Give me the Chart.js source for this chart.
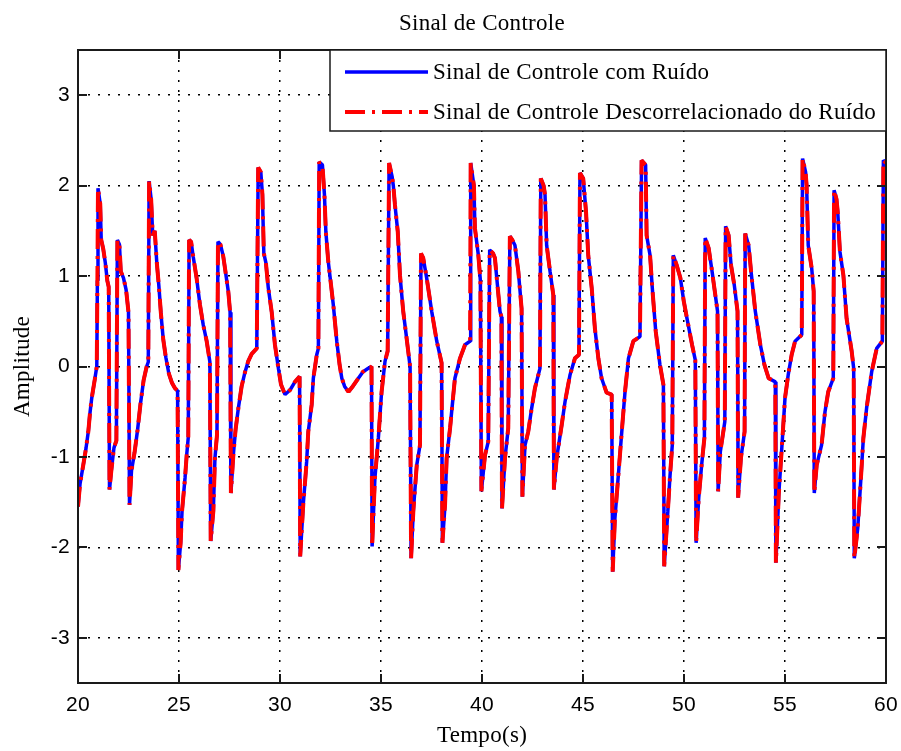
<!DOCTYPE html>
<html>
<head>
<meta charset="utf-8">
<script src="https://cdn.jsdelivr.net/npm/chart.js@4.4.1/dist/chart.umd.min.js"></script>
<style>
  html, body { margin: 0; padding: 0; background: #ffffff; }
  canvas { display: block; }
</style>
</head>
<body>
<canvas id="grafico" width="901" height="751"></canvas>
<script>
// Tempo (s) de cada amostra do sinal de controle
const tempo = [
  20.00, 20.10, 20.26, 20.40, 20.51, 20.60, 20.68, 20.84, 20.93, 20.96,
  20.99, 21.10, 21.15, 21.25, 21.35, 21.45, 21.52, 21.56, 21.65, 21.78,
  21.90, 21.95, 22.05, 22.12, 22.25, 22.38, 22.50, 22.55, 22.65, 22.80,
  22.95, 23.10, 23.25, 23.40, 23.48, 23.52, 23.62, 23.70, 23.80, 23.90,
  24.00, 24.10, 24.22, 24.35, 24.50, 24.65, 24.80, 24.93, 24.97, 25.08,
  25.15, 25.30, 25.38, 25.46, 25.50, 25.60, 25.70, 25.87, 26.04, 26.20,
  26.37, 26.53, 26.57, 26.70, 26.78, 26.88, 26.93, 27.05, 27.19, 27.30,
  27.44, 27.53, 27.57, 27.69, 27.80, 27.94, 28.10, 28.27, 28.43, 28.60,
  28.85, 28.92, 29.05, 29.13, 29.20, 29.30, 29.42, 29.59, 29.75, 29.92,
  30.05, 30.25, 30.50, 30.74, 30.97, 31.00, 31.15, 31.32, 31.40, 31.57,
  31.65, 31.82, 31.90, 31.94, 32.10, 32.20, 32.27, 32.39, 32.50, 32.64,
  32.81, 32.95, 33.06, 33.20, 33.39, 33.60, 33.88, 34.10, 34.37, 34.53,
  34.56, 34.70, 34.87, 35.03, 35.20, 35.33, 35.40, 35.55, 35.61, 35.69,
  35.83, 35.94, 36.10, 36.27, 36.44, 36.49, 36.60, 36.77, 36.93, 36.98,
  37.09, 37.26, 37.51, 37.76, 38.00, 38.04, 38.17, 38.25, 38.42, 38.66,
  38.91, 39.16, 39.41, 39.44, 39.60, 39.65, 39.82, 39.92, 39.97, 40.15,
  40.31, 40.38, 40.55, 40.64, 40.73, 40.89, 40.96, 40.99, 41.14, 41.30,
  41.38, 41.50, 41.63, 41.80, 41.96, 42.00, 42.13, 42.29, 42.46, 42.62,
  42.87, 42.91, 43.05, 43.12, 43.20, 43.37, 43.53, 43.56, 43.70, 43.95,
  44.11, 44.36, 44.60, 44.80, 44.85, 45.01, 45.15, 45.26, 45.43, 45.59,
  45.76, 45.92, 46.17, 46.42, 46.47, 46.58, 46.75, 46.92, 47.08, 47.25,
  47.49, 47.82, 47.90, 48.10, 48.15, 48.32, 48.43, 48.60, 48.81, 48.98,
  49.02, 49.20, 49.31, 49.42, 49.47, 49.64, 49.82, 49.99, 50.15, 50.40,
  50.56, 50.60, 50.73, 50.89, 51.01, 51.05, 51.22, 51.39, 51.55, 51.66,
  51.69, 51.80, 52.02, 52.06, 52.21, 52.33, 52.49, 52.65, 52.68, 52.82,
  53.00, 53.03, 53.20, 53.32, 53.53, 53.78, 53.98, 54.19, 54.52, 54.55,
  54.69, 54.85, 55.00, 55.16, 55.33, 55.50, 55.83, 55.87, 56.02, 56.07,
  56.15, 56.32, 56.42, 56.45, 56.57, 56.81, 56.98, 57.14, 57.39, 57.43,
  57.55, 57.61, 57.72, 57.89, 58.05, 58.30, 58.40, 58.43, 58.60, 58.76,
  58.88, 59.04, 59.29, 59.54, 59.82, 59.87, 60.00
];

// Sinal de controle com ruído
const sinalComRuido = [
  -1.55, -1.30, -1.09, -0.90, -0.72, -0.50, -0.35, -0.13, 0.00, 0.95,
  1.97, 1.80, 1.40, 1.30, 1.15, 0.95, 0.88, -1.36, -1.15, -0.90,
  -0.82, 1.40, 1.35, 1.05, 0.98, 0.85, 0.60, -1.53, -1.15, -0.95,
  -0.70, -0.40, -0.15, 0.00, 0.05, 2.05, 1.85, 1.45, 1.50, 1.15,
  0.90, 0.60, 0.30, 0.10, -0.08, -0.18, -0.24, -0.27, -2.25, -1.95,
  -1.60, -1.23, -0.98, -0.78, 1.40, 1.38, 1.22, 0.98, 0.68, 0.46,
  0.28, 0.05, -1.93, -1.60, -1.01, -0.76, 1.38, 1.35, 1.22, 1.05,
  0.83, 0.60, -1.40, -0.98, -0.70, -0.46, -0.22, -0.06, 0.06, 0.14,
  0.20, 2.20, 2.15, 1.90, 1.25, 1.15, 0.87, 0.60, 0.24, -0.02,
  -0.20, -0.31, -0.26, -0.17, -0.11, -2.10, -1.53, -1.05, -0.72, -0.42,
  -0.13, 0.13, 0.20, 2.26, 2.23, 1.90, 1.49, 1.16, 0.95, 0.68,
  0.28, 0.02, -0.13, -0.22, -0.28, -0.22, -0.13, -0.06, -0.02, 0.00,
  -1.99, -1.23, -0.79, -0.28, 0.06, 0.17, 2.25, 2.10, 2.00, 1.79,
  1.49, 1.01, 0.61, 0.31, 0.00, -2.12, -1.60, -1.09, -0.87, 1.25,
  1.20, 0.98, 0.61, 0.28, 0.04, -1.95, -1.53, -1.01, -0.68, -0.13,
  0.09, 0.24, 0.28, 2.25, 2.00, 1.53, 1.23, 0.95, -1.38, -0.98,
  -0.83, 1.29, 1.25, 1.20, 0.98, 0.61, 0.55, -1.57, -1.01, -0.68,
  1.44, 1.40, 1.34, 1.05, 0.64, -1.44, -0.87, -0.72, -0.46, -0.24,
  -0.02, 2.08, 2.00, 1.90, 1.34, 1.05, 0.79, -1.36, -1.01, -0.64,
  -0.39, -0.09, 0.09, 0.13, 2.14, 2.08, 1.71, 1.23, 0.87, 0.42,
  0.09, -0.13, -0.29, -0.31, -2.27, -1.68, -1.20, -0.72, -0.28, 0.09,
  0.28, 0.33, 2.28, 2.23, 1.45, 1.23, 0.87, 0.39, 0.02, -0.20,
  -2.21, -1.60, -1.20, -0.87, 1.23, 1.12, 0.98, 0.72, 0.53, 0.24,
  0.07, -1.95, -1.45, -1.05, -0.79, 1.42, 1.31, 1.05, 0.79, 0.61,
  -1.38, -0.94, -0.61, 1.55, 1.45, 1.12, 0.90, 0.61, -1.45, -1.01,
  -0.72, 1.47, 1.34, 1.05, 0.61, 0.24, 0.02, -0.13, -0.17, -2.17,
  -1.42, -0.87, -0.35, -0.09, 0.13, 0.28, 0.35, 2.30, 2.15, 2.00,
  1.34, 1.09, 0.83, -1.40, -1.09, -0.87, -0.50, -0.28, -0.13, 1.95,
  1.85, 1.71, 1.27, 1.01, 0.53, 0.17, -0.02, -2.12, -1.79, -1.23,
  -0.79, -0.46, -0.06, 0.20, 0.28, 2.28, 2.25
];

// Sinal de controle descorrelacionado do ruído
const sinalDescorrelacionado = [
  -1.55, -1.30, -1.09, -0.90, -0.72, -0.50, -0.35, -0.13, 0.00, 0.95,
  1.97, 1.80, 1.40, 1.30, 1.15, 0.95, 0.88, -1.36, -1.15, -0.90,
  -0.82, 1.40, 1.35, 1.05, 0.98, 0.85, 0.60, -1.53, -1.15, -0.95,
  -0.70, -0.40, -0.15, 0.00, 0.05, 2.05, 1.85, 1.45, 1.50, 1.15,
  0.90, 0.60, 0.30, 0.10, -0.08, -0.18, -0.24, -0.27, -2.25, -1.95,
  -1.60, -1.23, -0.98, -0.78, 1.40, 1.38, 1.22, 0.98, 0.68, 0.46,
  0.28, 0.05, -1.93, -1.60, -1.01, -0.76, 1.38, 1.35, 1.22, 1.05,
  0.83, 0.60, -1.40, -0.98, -0.70, -0.46, -0.22, -0.06, 0.06, 0.14,
  0.20, 2.20, 2.15, 1.90, 1.25, 1.15, 0.87, 0.60, 0.24, -0.02,
  -0.20, -0.31, -0.26, -0.17, -0.11, -2.10, -1.53, -1.05, -0.72, -0.42,
  -0.13, 0.13, 0.20, 2.26, 2.23, 1.90, 1.49, 1.16, 0.95, 0.68,
  0.28, 0.02, -0.13, -0.22, -0.28, -0.22, -0.13, -0.06, -0.02, 0.00,
  -1.99, -1.23, -0.79, -0.28, 0.06, 0.17, 2.25, 2.10, 2.00, 1.79,
  1.49, 1.01, 0.61, 0.31, 0.00, -2.12, -1.60, -1.09, -0.87, 1.25,
  1.20, 0.98, 0.61, 0.28, 0.04, -1.95, -1.53, -1.01, -0.68, -0.13,
  0.09, 0.24, 0.28, 2.25, 2.00, 1.53, 1.23, 0.95, -1.38, -0.98,
  -0.83, 1.29, 1.25, 1.20, 0.98, 0.61, 0.55, -1.57, -1.01, -0.68,
  1.44, 1.40, 1.34, 1.05, 0.64, -1.44, -0.87, -0.72, -0.46, -0.24,
  -0.02, 2.08, 2.00, 1.90, 1.34, 1.05, 0.79, -1.36, -1.01, -0.64,
  -0.39, -0.09, 0.09, 0.13, 2.14, 2.08, 1.71, 1.23, 0.87, 0.42,
  0.09, -0.13, -0.29, -0.31, -2.27, -1.68, -1.20, -0.72, -0.28, 0.09,
  0.28, 0.33, 2.28, 2.23, 1.45, 1.23, 0.87, 0.39, 0.02, -0.20,
  -2.21, -1.60, -1.20, -0.87, 1.23, 1.12, 0.98, 0.72, 0.53, 0.24,
  0.07, -1.95, -1.45, -1.05, -0.79, 1.42, 1.31, 1.05, 0.79, 0.61,
  -1.38, -0.94, -0.61, 1.55, 1.45, 1.12, 0.90, 0.61, -1.45, -1.01,
  -0.72, 1.47, 1.34, 1.05, 0.61, 0.24, 0.02, -0.13, -0.17, -2.17,
  -1.42, -0.87, -0.35, -0.09, 0.13, 0.28, 0.35, 2.30, 2.15, 2.00,
  1.34, 1.09, 0.83, -1.40, -1.09, -0.87, -0.50, -0.28, -0.13, 1.95,
  1.85, 1.71, 1.27, 1.01, 0.53, 0.17, -0.02, -2.12, -1.79, -1.23,
  -0.79, -0.46, -0.06, 0.20, 0.28, 2.28, 2.25
];

// Marcas dos eixos
const xTicks = [20, 25, 30, 35, 40, 45, 50, 55, 60];
const yTicks = [-3, -2, -1, 0, 1, 2, 3];

const fonteSerif = "'Liberation Serif', 'Times New Roman', serif";
const fonteSans = "'Liberation Sans', Arial, sans-serif";

function pontos(valores) {
  return tempo.map((t, i) => ({ x: t, y: valores[i] }));
}

// Espaçamento leve entre letras em todos os textos
const espacamentoTexto = {
  id: 'espacamentoTexto',
  beforeDraw(chart) { chart.ctx.letterSpacing = '0.3px'; }
};

// Moldura da área do gráfico com marcas voltadas para dentro
const molduraEixos = {
  id: 'molduraEixos',
  afterDatasetsDraw(chart) {
    const { ctx, chartArea: { left, right, top, bottom }, scales: { x, y } } = chart;
    const comp = 9;
    ctx.save();
    ctx.strokeStyle = '#1a1a1a';
    ctx.lineWidth = 2;
    ctx.beginPath();
    xTicks.forEach(v => {
      const px = Math.round(x.getPixelForValue(v));
      ctx.moveTo(px, bottom); ctx.lineTo(px, bottom - comp);
      ctx.moveTo(px, top); ctx.lineTo(px, top + comp);
    });
    yTicks.forEach(v => {
      const py = Math.round(y.getPixelForValue(v));
      ctx.moveTo(left, py); ctx.lineTo(left + comp, py);
      ctx.moveTo(right, py); ctx.lineTo(right - comp, py);
    });
    ctx.stroke();
    ctx.strokeRect(left, top, right - left, bottom - top);
    ctx.restore();
  }
};

// Legenda dentro da área do gráfico, no canto superior direito
const legendaInterna = {
  id: 'legendaInterna',
  afterDraw(chart) {
    const { ctx, chartArea: { right, top } } = chart;
    const largura = 556, altura = 81;
    const x0 = right - largura, y0 = top;
    ctx.save();
    ctx.fillStyle = '#ffffff';
    ctx.fillRect(x0, y0, largura, altura);
    ctx.strokeStyle = '#1a1a1a';
    ctx.lineWidth = 1.5;
    ctx.strokeRect(x0, y0, largura, altura);
    const itens = [chart.data.datasets[1], chart.data.datasets[0]];
    itens.forEach((ds, i) => {
      const yy = y0 + 22 + i * 40;
      ctx.beginPath();
      ctx.strokeStyle = ds.borderColor;
      ctx.lineWidth = ds.borderWidth;
      ctx.setLineDash(ds.borderDash || []);
      ctx.moveTo(x0 + 15, yy);
      ctx.lineTo(x0 + 98, yy);
      ctx.stroke();
      ctx.setLineDash([]);
      ctx.fillStyle = '#000000';
      ctx.font = "23px " + fonteSerif;
      ctx.textBaseline = 'middle';
      ctx.textAlign = 'left';
      ctx.fillText(ds.label, x0 + 103, yy + 1);
    });
    ctx.restore();
  }
};

new Chart(document.getElementById('grafico'), {
  type: 'line',
  data: {
    datasets: [
      {
        label: 'Sinal de Controle Descorrelacionado do Ruído',
        data: pontos(sinalDescorrelacionado),
        borderColor: '#ff0000',
        borderWidth: 4,
        borderDash: [20, 7, 3, 7],
        borderJoinStyle: 'bevel',
        pointRadius: 0,
        tension: 0,
        fill: false,
        order: 0
      },
      {
        label: 'Sinal de Controle com Ruído',
        data: pontos(sinalComRuido),
        borderColor: '#0000ff',
        borderWidth: 3.5,
        borderJoinStyle: 'bevel',
        pointRadius: 0,
        tension: 0,
        fill: false,
        order: 1
      }
    ]
  },
  options: {
    responsive: false,
    animation: false,
    devicePixelRatio: 1,
    layout: { padding: { left: 0, right: 15, top: 0, bottom: 0 } },
    plugins: {
      legend: { display: false },
      tooltip: { enabled: false },
      title: {
        display: true,
        text: 'Sinal de Controle',
        fullSize: false,
        color: '#000000',
        font: { family: fonteSerif, size: 23, weight: 'normal' },
        padding: { top: 10, bottom: 12.4 }
      }
    },
    scales: {
      x: {
        type: 'linear',
        min: 20,
        max: 60,
        afterBuildTicks: s => { s.ticks = xTicks.map(v => ({ value: v })); },
        afterFit: s => { s.height = 68; s.paddingLeft = 0; s.paddingRight = 0; },
        grid: { color: '#000000', lineWidth: 1.5, drawTicks: false },
        border: { display: false, dash: [2, 8] },
        ticks: { color: '#000000', font: { family: fonteSans, size: 21 }, padding: 10, maxRotation: 0, autoSkip: false },
        title: { display: true, text: 'Tempo(s)', color: '#000000', font: { family: fonteSerif, size: 23 }, padding: { top: 0, bottom: 1 } }
      },
      y: {
        type: 'linear',
        min: -3.5,
        max: 3.5,
        afterBuildTicks: s => { s.ticks = yTicks.map(v => ({ value: v })); },
        afterFit: s => { s.width = 78; },
        grid: { color: '#000000', lineWidth: 1.5, drawTicks: false },
        border: { display: false, dash: [2, 8] },
        ticks: { color: '#000000', font: { family: fonteSans, size: 21 }, padding: 8, autoSkip: false },
        title: { display: true, text: 'Amplitude', color: '#000000', font: { family: fonteSerif, size: 23 }, padding: { top: 9, bottom: 0 } }
      }
    }
  },
  plugins: [espacamentoTexto, molduraEixos, legendaInterna]
});
</script>
</body>
</html>
